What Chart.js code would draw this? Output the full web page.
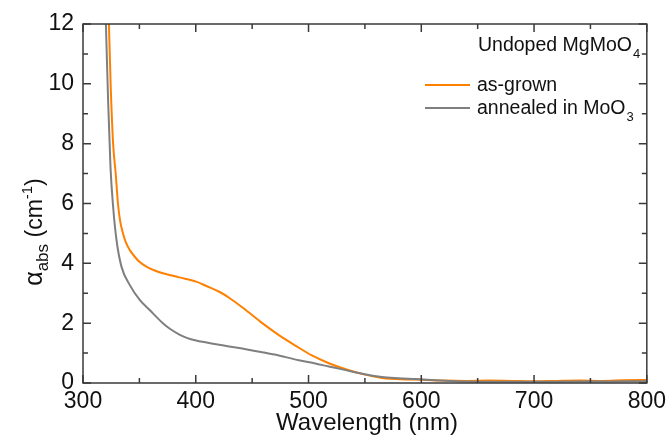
<!DOCTYPE html>
<html>
<head>
<meta charset="utf-8">
<script src="https://cdn.jsdelivr.net/npm/chart.js@4/dist/chart.umd.min.js"></script>
<style>
  body { margin: 0; background: #fff; }
  #wrap { width: 671px; height: 437px; }
</style>
</head>
<body>
<div id="wrap"><canvas id="absChart"></canvas></div>
<script>
// as-grown (orange)
const grownWl = [323, 324.5, 326.7, 329, 331, 333, 335.5, 338, 341.4, 345.9, 350, 356.2, 363, 370.8, 385.5, 400.3, 409, 420.8, 429.6, 444.3, 459, 473.7, 488.4, 503, 518, 533, 550, 565, 585, 600, 620, 640, 660, 680, 700, 720, 740, 760, 780, 800];
const grownAbs = [12, 10, 8, 7, 6, 5.4, 5.0, 4.7, 4.45, 4.22, 4.05, 3.89, 3.77, 3.67, 3.53, 3.39, 3.25, 3.05, 2.85, 2.44, 2.0, 1.6, 1.25, 0.92, 0.66, 0.46, 0.28, 0.17, 0.12, 0.11, 0.08, 0.07, 0.08, 0.07, 0.06, 0.07, 0.08, 0.07, 0.09, 0.1];

// annealed in MoO3 (gray)
const annealWl = [320.3, 322.3, 324.4, 326.7, 329.7, 334.1, 341.4, 350.3, 359.1, 370.8, 378, 385.5, 392, 400.3, 420.8, 429.6, 444.4, 459, 473.7, 491.4, 506, 518, 527, 540, 550, 565, 579.5, 595, 609, 625, 638, 660, 700, 740, 770, 800];
const annealAbs = [12, 9.4, 7.2, 5.9, 4.78, 3.89, 3.28, 2.78, 2.44, 2.0, 1.79, 1.62, 1.51, 1.42, 1.28, 1.22, 1.13, 1.03, 0.92, 0.76, 0.65, 0.55, 0.48, 0.37, 0.29, 0.2, 0.16, 0.13, 0.1, 0.07, 0.05, 0.04, 0.04, 0.05, 0.05, 0.06];

const xTicks = [300, 400, 500, 600, 700, 800];
const yTicks = [0, 2, 4, 6, 8, 10, 12];

const ORANGE = '#ff8000';
const GRAY = '#7f7f7f';
const AXIS = '#3a3a3a';
const FONT = '"Liberation Sans", Arial, sans-serif';

// frame, inner ticks, axis titles and legend
const decorPlugin = {
  id: 'decor',
  afterDraw(chart) {
    const ctx = chart.ctx;
    const { left, right, top, bottom } = chart.chartArea;
    const xs = chart.scales.x, ys = chart.scales.y;
    ctx.save();
    ctx.strokeStyle = AXIS;
    ctx.lineWidth = 1.5;
    ctx.strokeRect(left, top, right - left, bottom - top);

    ctx.beginPath();
    for (let v = 300; v <= 800; v += 50) {
      const px = xs.getPixelForValue(v);
      const len = v % 100 === 0 ? 8 : 5;
      ctx.moveTo(px, bottom); ctx.lineTo(px, bottom - len);
      ctx.moveTo(px, top); ctx.lineTo(px, top + len);
    }
    for (let v = 0; v <= 12; v += 1) {
      const py = ys.getPixelForValue(v);
      const len = v % 2 === 0 ? 8 : 5;
      ctx.moveTo(left, py); ctx.lineTo(left + len, py);
      ctx.moveTo(right, py); ctx.lineTo(right - len, py);
    }
    ctx.stroke();

    ctx.fillStyle = '#111';
    ctx.textBaseline = 'alphabetic';

    // x title
    ctx.font = '24px ' + FONT;
    ctx.textAlign = 'center';
    ctx.fillText('Wavelength (nm)', 367, 430);

    // y title, rotated
    const parts = [
      { t: '\u03B1', f: 25, dy: 0 },
      { t: 'abs', f: 17, dy: 6 },
      { t: ' (cm', f: 23, dy: 0 },
      { t: '-1', f: 15, dy: -10 },
      { t: ')', f: 23, dy: 0 }
    ];
    let total = 0;
    parts.forEach(p => { ctx.font = p.f + 'px ' + FONT; p.w = ctx.measureText(p.t).width; total += p.w; });
    ctx.translate(42, 232);
    ctx.rotate(-Math.PI / 2);
    ctx.textAlign = 'left';
    let cx = -total / 2;
    parts.forEach(p => {
      ctx.font = p.f + 'px ' + FONT;
      ctx.fillText(p.t, cx, p.dy);
      cx += p.w;
    });
    ctx.setTransform(1, 0, 0, 1, 0, 0);

    // annotation and legend
    ctx.textAlign = 'left';
    ctx.font = '19.5px ' + FONT;
    ctx.fillText('Undoped MgMoO', 478, 51);
    const w = ctx.measureText('Undoped MgMoO').width;
    ctx.font = '13px ' + FONT;
    ctx.fillText('4', 478 + w + 1, 58);

    const items = [
      { label: 'as-grown', sub: '', color: ORANGE, y: 85 },
      { label: 'annealed in MoO', sub: '3', color: GRAY, y: 108 }
    ];
    items.forEach(it => {
      ctx.strokeStyle = it.color;
      ctx.lineWidth = 2;
      ctx.beginPath();
      ctx.moveTo(425, it.y); ctx.lineTo(470, it.y);
      ctx.stroke();
      ctx.font = '19.5px ' + FONT;
      ctx.fillText(it.label, 477, it.y + 6);
      if (it.sub) {
        const lw = ctx.measureText(it.label).width;
        ctx.font = '13px ' + FONT;
        ctx.fillText(it.sub, 477 + lw + 1, it.y + 13);
      }
    });
    ctx.restore();
  }
};

const absChart = new Chart(document.getElementById('absChart'), {
  type: 'line',
  data: {
    datasets: [
      {
        label: 'annealed in MoO3',
        data: annealWl.map((x, i) => ({ x: x, y: annealAbs[i] })),
        borderColor: GRAY,
        borderWidth: 2,
        pointRadius: 0,
        cubicInterpolationMode: 'monotone'
      },
      {
        label: 'as-grown',
        data: grownWl.map((x, i) => ({ x: x, y: grownAbs[i] })),
        borderColor: ORANGE,
        borderWidth: 2,
        pointRadius: 0,
        cubicInterpolationMode: 'monotone'
      }
    ]
  },
  options: {
    responsive: true,
    maintainAspectRatio: false,
    animation: false,
    layout: { padding: { top: 24, right: 21, left: 0, bottom: 0 } },
    plugins: {
      legend: { display: false },
      tooltip: { enabled: false }
    },
    scales: {
      x: {
        type: 'linear',
        min: 300,
        max: 800,
        grid: { display: false, drawTicks: false },
        border: { display: false },
        afterFit: s => { s.height = 54; },
        afterBuildTicks: s => { s.ticks = xTicks.map(v => ({ value: v })); },
        ticks: { color: '#111', padding: 5, maxRotation: 0, font: { family: FONT, size: 23 } }
      },
      y: {
        type: 'linear',
        min: 0,
        max: 12,
        grid: { display: false, drawTicks: false },
        border: { display: false },
        afterFit: s => { s.width = 83; },
        afterBuildTicks: s => { s.ticks = yTicks.map(v => ({ value: v })); },
        ticks: { color: '#111', padding: 9, font: { family: FONT, size: 23 } }
      }
    }
  },
  plugins: [decorPlugin]
});
</script>
</body>
</html>
